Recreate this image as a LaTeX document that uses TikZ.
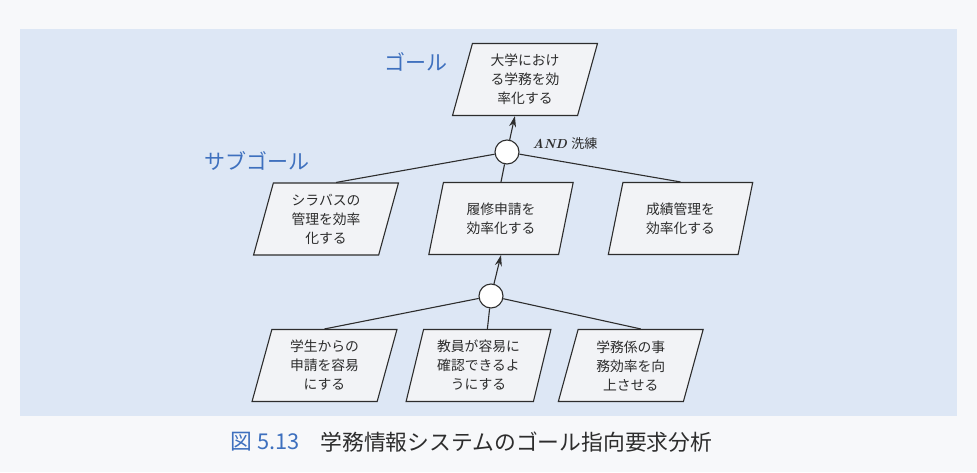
\documentclass[tikz,border=0pt]{standalone}
\usepackage{fontspec}
\usepackage{xcolor}
\usepackage{tikz}
\usetikzlibrary{arrows.meta,shapes.geometric}
\newfontfamily\jpfont{Noto Sans CJK JP}
\definecolor{panelblue}{RGB}{221,231,245}
\definecolor{pagewhite}{RGB}{247,248,250}
\definecolor{labelblue}{RGB}{62,112,190}
\definecolor{boxfill}{RGB}{242,243,246}
\definecolor{inkgray}{RGB}{45,45,45}
\tikzset{
  % ゴールの平行四辺形
  goalbox/.style={
    trapezium,
    trapezium left angle=76,
    trapezium right angle=104,
    trapezium stretches=true,
    draw=inkgray,
    line width=1.1pt,
    fill=boxfill,
    minimum width=145pt,
    minimum height=72pt,
    align=center,
    text=inkgray,
    font=\jpfont\fontsize{13.8}{19}\selectfont
  },
  % AND 分解の丸
  andnode/.style={circle, draw=inkgray, line width=1.1pt, fill=white, minimum size=24pt, inner sep=0pt},
  % 線と矢印
  link/.style={draw=inkgray, line width=1.1pt},
  arr/.style={link, -{Stealth[length=11pt,width=7pt]}},
  % 青い見出し
  lbl/.style={text=labelblue, font=\jpfont\fontsize{21}{25}\selectfont},
  caption/.style={anchor=west, font=\jpfont\fontsize{21.8}{26}\selectfont},
}

\begin{document}
\begin{tikzpicture}[x=1pt, y=-1pt]
        % Background
        \fill[pagewhite] (0,0) rectangle (977,472);
        \fill[panelblue] (20,29) rectangle (957,416);
        \useasboundingbox (0,0) rectangle (977,472);

        % Goal
        \node[goalbox] (goal) at (525,79.5) {大学におけ\\る学務を効\\率化する};
        \node[andnode] (and1) at (507,152) {};

        % Sub goals
        \node[goalbox] (sub1) at (326,219) {シラバスの\\管理を効率\\化する};
        \node[goalbox] (sub2) at (501,218.5) {履修申請を\\効率化する};
        \node[goalbox] (sub3) at (680.5,218.5) {成績管理を\\効率化する};
        \node[andnode] (and2) at (491,296) {};

        % Leaves
        \node[goalbox] (leaf1) at (324.5,365.5) {学生からの\\申請を容易\\にする};
        \node[goalbox] (leaf2) at (478.5,365.5) {教員が容易に\\確認できるよ\\うにする};
        \node[goalbox] (leaf3) at (630.75,365.5) {学務係の事\\務効率を向\\上させる};

        % Labels
        \node[lbl] (goallbl) at (416,62) {ゴール};
        \node[lbl] (sublbl) at (257,161) {サブゴール};
        \node[text=inkgray, font=\fontsize{13}{15}\selectfont] (andlbl) at (565,144) {\textbf{\textit{AND}} {\jpfont 洗練}};

        % Connectors
        \draw[arr] (and1) -- (goal.bottom side);
        \draw[link] (and1) -- (sub1.top side);
        \draw[link] (and1) -- (sub2.north);
        \draw[link] (and1) -- (sub3.north);
        \draw[arr] (and2) -- (sub2.south);
        \draw[link] (and2) -- (leaf1.north);
        \draw[link] (and2) -- (leaf2.top side);
        \draw[link] (and2) -- (leaf3.top side);

        % Caption
        \node[caption, text=labelblue] (capnum) at (227,442) {図 5.13};
        \node[caption, text=inkgray] (captext) at (317,442) {学務情報システムのゴール指向要求分析};
    \end{tikzpicture}
\end{document}
